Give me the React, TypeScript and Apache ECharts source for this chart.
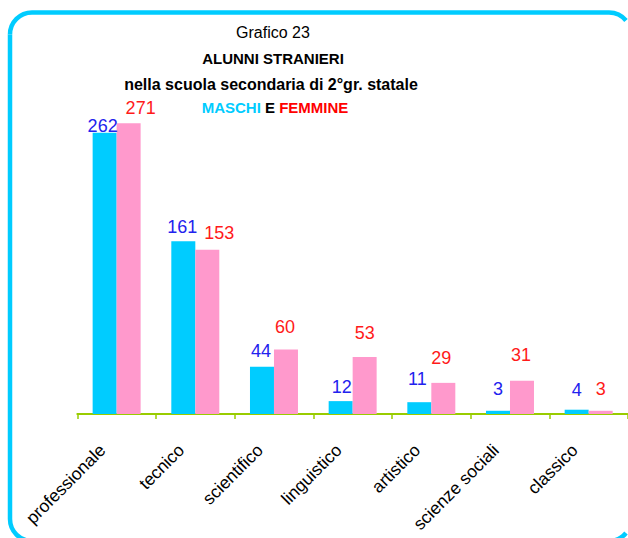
import React, { useEffect, useRef } from "react";
import * as echarts from "echarts";

const categories = [
  "professionale",
  "tecnico",
  "scientifico",
  "linguistico",
  "artistico",
  "scienze sociali",
  "classico",
];
const maschi = [262, 161, 44, 12, 11, 3, 4];
const femmine = [271, 153, 60, 53, 29, 31, 3];

// label nudges (style only), [dx, dy] in px
const maschiLabelOffsets = [[-2, 7], [-1, 0], [-1, -2], [1, 0], [-2, -9], [0, -8], [0, -6]];
const femmineLabelOffsets = [[12, -1], [12, -3], [-1, -9], [0, -10], [-2, -11], [-1, -12], [0, -8]];

const FONT = "'Liberation Sans', Arial, sans-serif";

const BORDER = { stroke: "#00CCFF", lineWidth: 4.5, fill: "none" };
const L = 10, T = 12.5, R = 631, B = 541, RAD = 22;
const CUT = Math.acos(17 / 22); // stop right-hand arcs at the page edge

export default function App() {
  const ref = useRef<HTMLDivElement>(null);

  useEffect(() => {
    if (!ref.current) return;
    const chart = echarts.init(ref.current, undefined, { renderer: "svg" });
    const frame = [
      { type: "line", shape: { x1: L + RAD, y1: T, x2: R - RAD, y2: T } },
      { type: "line", shape: { x1: L, y1: T + RAD, x2: L, y2: B - RAD } },
      { type: "line", shape: { x1: L + RAD, y1: B, x2: R - RAD, y2: B } },
      { type: "arc", shape: { cx: L + RAD, cy: T + RAD, r: RAD, startAngle: Math.PI, endAngle: Math.PI * 1.5, clockwise: true } },
      { type: "arc", shape: { cx: R - RAD, cy: T + RAD, r: RAD, startAngle: Math.PI * 1.5, endAngle: Math.PI * 2 - CUT, clockwise: true } },
      { type: "arc", shape: { cx: L + RAD, cy: B - RAD, r: RAD, startAngle: Math.PI * 0.5, endAngle: Math.PI, clockwise: true } },
      { type: "arc", shape: { cx: R - RAD, cy: B - RAD, r: RAD, startAngle: CUT, endAngle: Math.PI * 0.5, clockwise: true } },
    ].map((e) => ({ ...e, style: { ...BORDER }, silent: true }));

    chart.setOption({
      animation: false,
      backgroundColor: "#ffffff",
      graphic: [
        ...frame,
        {
          type: "text",
          x: 273,
          y: 32,
          style: {
            text: "Grafico 23",
            fill: "#000",
            font: `16px ${FONT}`,
            align: "center",
            verticalAlign: "middle",
            textAlign: "center",
            textVerticalAlign: "middle",
          },
        },
        {
          type: "text",
          x: 273,
          y: 58,
          style: {
            text: "ALUNNI STRANIERI",
            fill: "#000",
            font: `bold 15px ${FONT}`,
            align: "center",
            verticalAlign: "middle",
            textAlign: "center",
            textVerticalAlign: "middle",
          },
        },
        {
          type: "text",
          x: 271,
          y: 84,
          style: {
            text: "nella scuola secondaria di 2°gr. statale",
            fill: "#000",
            font: `bold 16px ${FONT}`,
            align: "center",
            verticalAlign: "middle",
            textAlign: "center",
            textVerticalAlign: "middle",
          },
        },
        {
          type: "text",
          x: 275,
          y: 107,
          style: {
            text: "{a|MASCHI} {b|E} {c|FEMMINE}",
            font: `bold 15px ${FONT}`,
            fill: "#000",
            align: "center",
            verticalAlign: "middle",
            textAlign: "center",
            textVerticalAlign: "middle",
            rich: {
              a: { fill: "#00CCFF", fontWeight: "bold", fontSize: 15, fontFamily: FONT },
              b: { fill: "#000000", fontWeight: "bold", fontSize: 15, fontFamily: FONT },
              c: { fill: "#FF0000", fontWeight: "bold", fontSize: 15, fontFamily: FONT },
            },
          },
        },
      ],
      grid: { left: 77.3, right: -3.7, top: 92, bottom: 124, containLabel: false },
      xAxis: {
        type: "category",
        data: categories,
        axisLine: { show: true, lineStyle: { color: "#99CC00", width: 2 } },
        axisTick: { show: true, length: 5, lineStyle: { color: "#99CC00", width: 1.5 } },
        axisLabel: {
          interval: 0,
          rotate: 45,
          fontSize: 17.5,
          color: "#000",
          fontFamily: FONT,
          margin: 19,
          padding: [0, 20, 0, 0],
        },
      },
      yAxis: {
        type: "value",
        min: 0,
        max: 300,
        show: false,
        splitLine: { show: false },
      },
      series: [
        {
          name: "MASCHI",
          type: "bar",
          barGap: "0%",
          barCategoryGap: "39%",
          itemStyle: { color: "#00CCFF" },
          label: {
            show: true,
            position: "top",
            distance: 5,
            fontSize: 18,
            fontFamily: FONT,
            color: "#2222EE",
          },
          data: maschi.map((v, i) => ({ value: v, label: { offset: maschiLabelOffsets[i] } })),
        },
        {
          name: "FEMMINE",
          type: "bar",
          barGap: "0%",
          barCategoryGap: "39%",
          itemStyle: { color: "#FF99CC" },
          label: {
            show: true,
            position: "top",
            distance: 5,
            fontSize: 18,
            fontFamily: FONT,
            color: "#FF1A1A",
          },
          data: femmine.map((v, i) => ({ value: v, label: { offset: femmineLabelOffsets[i] } })),
        },
      ],
    });
    return () => chart.dispose();
  }, []);

  return (
    <div
      ref={ref}
      style={{ position: "fixed", left: 0, top: 0, width: 628, height: 538, overflow: "hidden" }}
    />
  );
}
